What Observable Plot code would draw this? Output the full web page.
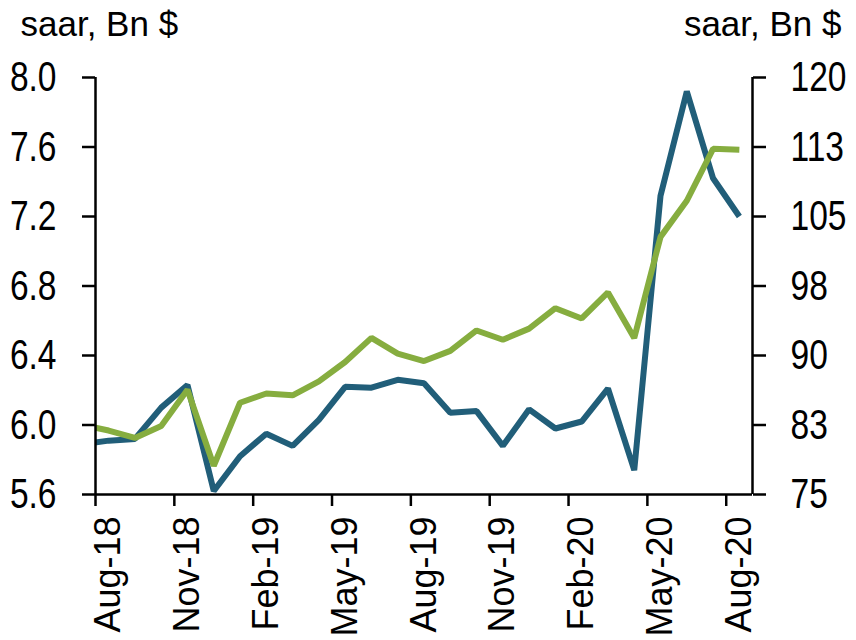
<!DOCTYPE html>
<html>
<head>
<meta charset="utf-8">
<script src="https://cdn.jsdelivr.net/npm/d3@7"></script>
<script src="https://cdn.jsdelivr.net/npm/@observablehq/plot@0.6"></script>
<style>
  html, body { margin: 0; padding: 0; background: #fff; }
</style>
</head>
<body>
<div id="chart"></div>
<script>
// Months (Jul-18 lies just left of the axis and is clipped, as in the reference)
const months = ["Jul-18","Aug-18","Sep-18","Oct-18","Nov-18","Dec-18","Jan-19","Feb-19","Mar-19","Apr-19","May-19","Jun-19","Jul-19","Aug-19","Sep-19","Oct-19","Nov-19","Dec-19","Jan-20","Feb-20","Mar-20","Apr-20","May-20","Jun-20","Jul-20","Aug-20"];
// Left axis series (saar, Bn $)
const leftSeries = [5.89, 5.91, 5.92, 6.10, 6.23, 5.62, 5.82, 5.95, 5.88, 6.03, 6.22, 6.215, 6.26, 6.24, 6.07, 6.08, 5.88, 6.09, 5.98, 6.02, 6.21, 5.74, 7.32, 7.92, 7.42, 7.20];
// Right axis series (saar, Bn $)
const rightSeries = [82.5, 81.9, 81.1, 82.4, 86.3, 78.1, 84.9, 85.9, 85.7, 87.2, 89.3, 91.9, 90.2, 89.4, 90.5, 92.7, 91.7, 92.9, 95.1, 94.0, 96.8, 91.9, 102.8, 106.7, 112.3, 112.2];
// Tick labels
const xTickLabels = ["Aug-18","Nov-18","Feb-19","May-19","Aug-19","Nov-19","Feb-20","May-20","Aug-20"];
const leftTicks = [5.6, 6.0, 6.4, 6.8, 7.2, 7.6, 8.0];
const rightTicks = [75, 82.5, 90, 97.5, 105, 112.5, 120];
const leftTitle = "saar, Bn $";
const rightTitle = "saar, Bn $";

const leftDomain = [5.6, 8.0];
const rightDomain = [75, 120];
const toLeft = v => leftDomain[0] + (v - rightDomain[0]) * (leftDomain[1] - leftDomain[0]) / (rightDomain[1] - rightDomain[0]);
const toRight = v => rightDomain[0] + (v - leftDomain[0]) * (rightDomain[1] - rightDomain[0]) / (leftDomain[1] - leftDomain[0]);

const pos = m => months.indexOf(m) - 1; // Aug-18 = 0
const blueData = months.map((m, k) => ({i: pos(m), v: leftSeries[k]}));
const greenData = months.map((m, k) => ({i: pos(m), v: toLeft(rightSeries[k])}));
const labelPos = xTickLabels.map(pos);
const boundaryPos = labelPos.map(p => p - 0.5);
const xDomain = [pos(xTickLabels[0]) - 0.5, pos(xTickLabels[xTickLabels.length - 1]) + 0.5];

const chart = Plot.plot({
  width: 856,
  height: 640,
  marginLeft: 95,
  marginRight: 104,
  marginTop: 77,
  marginBottom: 146,
  x: {type: "linear", domain: xDomain, label: null},
  y: {domain: leftDomain, label: null},
  style: {fontFamily: "'Liberation Sans', Arial, sans-serif", color: "#000", background: "#fff"},
  marks: [
    Plot.line(blueData, {x: "i", y: "v", stroke: "#215e79", strokeWidth: 6, clip: true, strokeLinejoin: "miter", strokeLinecap: "butt"}),
    Plot.line(greenData, {x: "i", y: "v", stroke: "#86ad3f", strokeWidth: 6, clip: true, strokeLinejoin: "miter", strokeLinecap: "butt"}),
    Plot.ruleX([xDomain[0], xDomain[1]], {stroke: "#000", strokeWidth: 2.5}),
    Plot.ruleY([leftDomain[0]], {stroke: "#000", strokeWidth: 2.5}),
    Plot.axisY(leftTicks, {anchor: "left", tickSize: 13, tickPadding: 26, fontSize: 43, strokeWidth: 2.5, tickFormat: d => d.toFixed(1)}),
    Plot.axisY(rightTicks.map(toLeft), {anchor: "right", tickSize: 13, tickPadding: 25, fontSize: 43, strokeWidth: 2.5,
      tickFormat: d => String(Math.round(Math.round(toRight(d) * 1e6) / 1e6))}),
    Plot.axisX(boundaryPos, {anchor: "bottom", tickSize: 12, strokeWidth: 2.5, tickFormat: () => ""}),
    Plot.axisX(labelPos, {anchor: "bottom", tickSize: 0, tickPadding: 22, tickRotate: -90, fontSize: 36,
      tickFormat: d => months[d + 1]}),
    Plot.text([leftTitle], {text: d => d, frameAnchor: "top-left", dx: -75, dy: -53, textAnchor: "start", lineAnchor: "middle", fontSize: 35}),
    Plot.text([rightTitle], {text: d => d, frameAnchor: "top-right", dx: 89, dy: -53, textAnchor: "end", lineAnchor: "middle", fontSize: 35})
  ]
});
document.getElementById("chart").appendChild(chart);

// Condense the y tick labels horizontally (narrow face in the reference),
// scaling about each label's anchor point.
d3.select(chart).selectAll('g[aria-label="y-axis tick label"] text').each(function() {
  const t = this.getAttribute("transform") || "";
  this.setAttribute("transform", (t + " scale(0.78,1)").trim());
});
</script>
</body>
</html>
